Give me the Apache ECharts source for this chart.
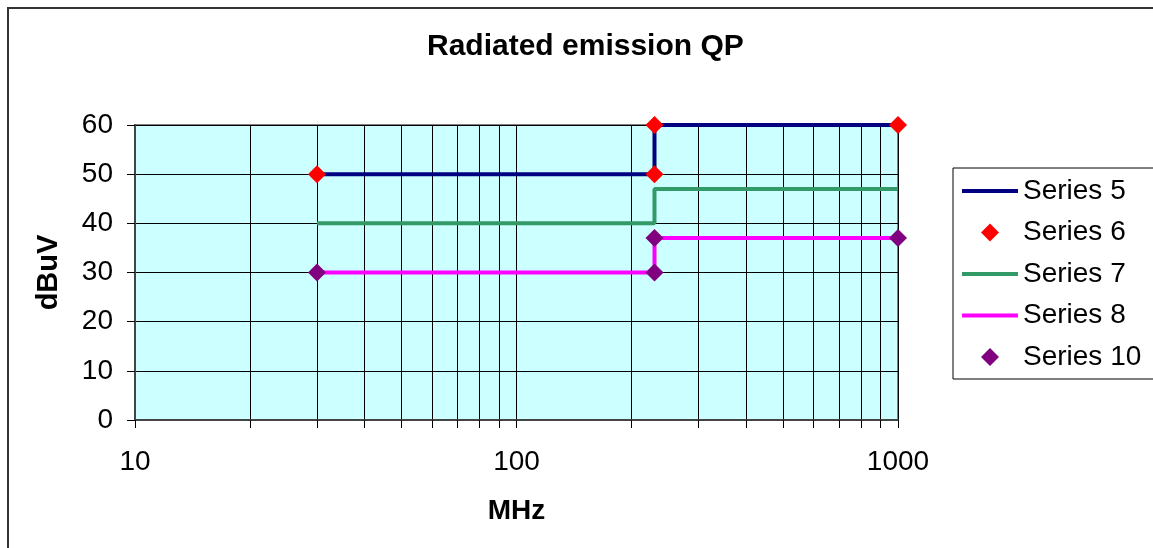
<!DOCTYPE html>
<html><head><meta charset="utf-8">
<script src="https://cdn.jsdelivr.net/npm/echarts@6/dist/echarts.min.js"></script>
<style>html,body{margin:0;padding:0;background:#fff}#c{width:1153px;height:548px}</style>
</head><body><div id="c"></div>
<script>
const title = 'Radiated emission QP';
const xName = 'MHz';
const yName = 'dBuV';
const xTickValues = [10,20,30,40,50,60,70,80,90,100,200,300,400,500,600,700,800,900,1000];
const xLabelValues = [10,100,1000];
const series5 = [[30,50],[230,50],[230,60],[1000,60]];
const series6 = [[30,50],[230,50],[230,60],[1000,60]];
const series7 = [[30,40],[230,40],[230,47],[1000,47]];
const series8 = [[30,30],[230,30],[230,37],[1000,37]];
const series10 = [[30,30],[230,30],[230,37],[1000,37]];

const FONT = 'Liberation Sans';
const noSym = {color:'rgba(0,0,0,0)',borderWidth:0,opacity:0};
// diamond centred in a 56x18 icon box (invisible end points keep the aspect)
const diamondIcon = 'path://M0,9L0,9M56,9L56,9M28,0L37,9L28,18L19,9Z';
const chart = echarts.init(document.getElementById('c'), null, {renderer:'canvas'});
chart.setOption({
  animation:false,
  backgroundColor:'#fff',
  textStyle:{fontFamily:FONT},
  graphic:[{type:'rect',shape:{x:8,y:8,width:1300,height:700},style:{fill:'none',stroke:'#333',lineWidth:2},z:-1}],
  title:{text:title,left:422,top:27,textStyle:{fontFamily:FONT,fontWeight:'bold',fontSize:30,color:'#000'}},
  grid:{left:135,right:255,top:125,bottom:128,show:true,backgroundColor:'#CCFFFF',borderColor:'#808080',borderWidth:2},
  legend:{orient:'vertical',left:953,top:168,padding:[9,14,8,7],borderColor:'#000',borderWidth:1,
    itemWidth:56,itemHeight:18,itemGap:13.5,
    textStyle:{fontFamily:FONT,fontSize:28,color:'#000'},
    data:[
      {name:'Series 5',itemStyle:noSym,lineStyle:{color:'#000080',width:4}},
      {name:'Series 6',icon:diamondIcon,itemStyle:{color:'#FF0000',borderWidth:0}},
      {name:'Series 7',itemStyle:noSym,lineStyle:{color:'#339966',width:4}},
      {name:'Series 8',itemStyle:noSym,lineStyle:{color:'#FF00FF',width:4}},
      {name:'Series 10',icon:diamondIcon,itemStyle:{color:'#800080',borderWidth:0}}]},
  xAxis:{type:'log',logBase:10,min:10,max:1000,name:xName,nameLocation:'middle',nameGap:77,
    nameTextStyle:{fontFamily:FONT,fontWeight:'bold',fontSize:28,color:'#000'},
    axisLine:{show:true,lineStyle:{color:'#444',width:2}},
    axisTick:{show:true,inside:false,length:8,customValues:xTickValues,lineStyle:{color:'#000',width:1}},
    axisLabel:{customValues:xLabelValues,fontFamily:FONT,fontSize:28,color:'#000',margin:28,formatter:v=>String(v)},
    splitLine:{show:true,lineStyle:{color:'#000',width:1}},
    minorTick:{show:false},minorSplitLine:{show:false}},
  yAxis:{type:'value',min:0,max:60,interval:10,name:yName,nameLocation:'middle',nameGap:72,nameRotate:90,
    nameTextStyle:{fontFamily:FONT,fontWeight:'bold',fontSize:29,color:'#000'},
    axisLine:{show:true,lineStyle:{color:'#444',width:2}},
    axisTick:{show:true,inside:false,length:8,lineStyle:{color:'#000',width:1}},
    axisLabel:{fontFamily:FONT,fontSize:28,color:'#000',margin:22},
    splitLine:{show:true,lineStyle:{color:'#000',width:1}}},
  series:[
    {name:'Series 5',type:'line',data:series5,symbol:'none',lineStyle:{color:'#000080',width:4},itemStyle:{color:'#000080'},z:2},
    {name:'Series 6',type:'scatter',data:series6,symbol:'diamond',symbolSize:18,itemStyle:{color:'#FF0000',opacity:1},z:3},
    {name:'Series 7',type:'line',data:series7,symbol:'none',lineStyle:{color:'#339966',width:4},itemStyle:{color:'#339966'},z:2},
    {name:'Series 8',type:'line',data:series8,symbol:'none',lineStyle:{color:'#FF00FF',width:4},itemStyle:{color:'#FF00FF'},z:2},
    {name:'Series 10',type:'scatter',data:series10,symbol:'diamond',symbolSize:18,itemStyle:{color:'#800080',opacity:1},z:3}
  ]
});
</script></body></html>
